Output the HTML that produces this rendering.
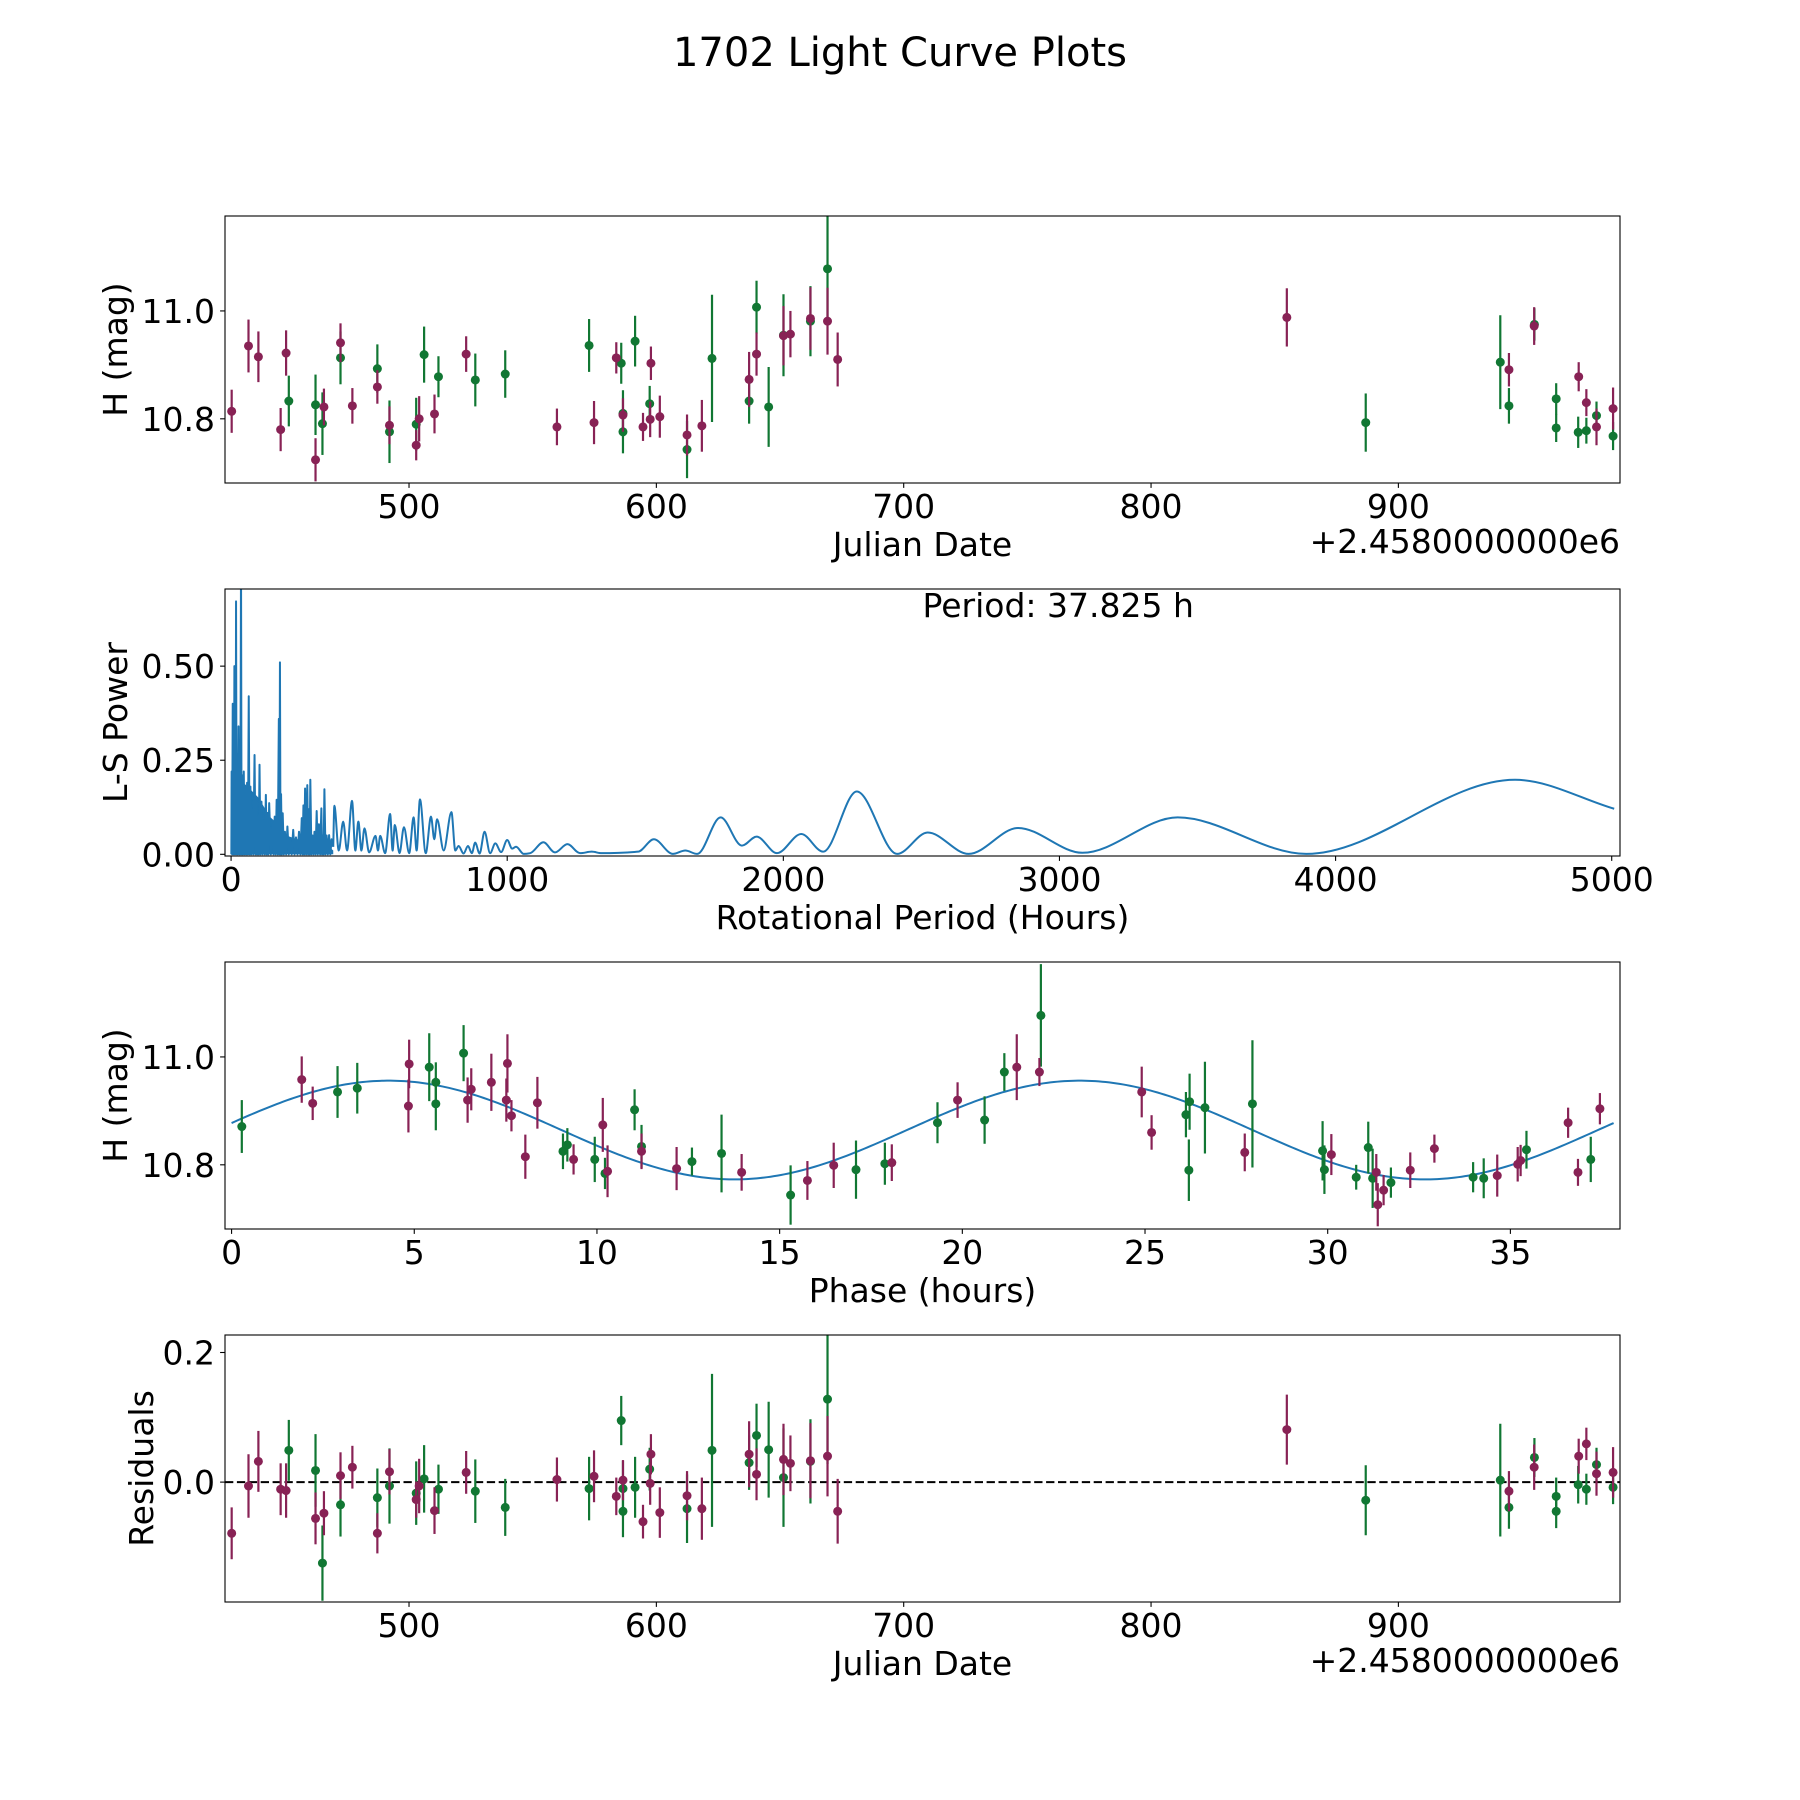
<!DOCTYPE html>
<html><head><meta charset="utf-8"><title>1702 Light Curve Plots</title>
<style>
html,body{margin:0;padding:0;background:#fff}
svg{display:block}
text{font-family:"DejaVu Sans","Liberation Sans",sans-serif;fill:#000}
</style></head>
<body>
<svg id="fig" xmlns="http://www.w3.org/2000/svg" width="1800" height="1800" viewBox="0 0 1800 1800">
<rect width="1800" height="1800" fill="#fff"/>
<text x="900" y="66" text-anchor="middle" font-size="40">1702 Light Curve Plots</text>
</svg>
<script>
// ---- Panel 1 / 4 data: magenta band ----
const jdM  = [428.3,435.1,439.1,448.1,450.3,462.2,465.6,472.3,477.1,487.2,492.1,502.9,504.1,510.3,523.1,559.8,574.8,583.8,586.5,594.6,597.8,597.5,601.4,612.4,618.4,637.5,640.5,651.4,654.2,662.3,669.2,673.3,854.9,944.7,954.9,972.9,976.0,980.1,986.8];
const magM = [10.814,10.935,10.915,10.780,10.922,10.724,10.822,10.941,10.824,10.859,10.788,10.751,10.800,10.809,10.920,10.785,10.793,10.913,10.807,10.785,10.903,10.799,10.804,10.770,10.787,10.873,10.920,10.954,10.957,10.986,10.981,10.910,10.988,10.891,10.972,10.878,10.830,10.785,10.819];
const errM = [0.040,0.049,0.047,0.040,0.042,0.040,0.034,0.036,0.033,0.031,0.035,0.028,0.042,0.036,0.033,0.034,0.040,0.029,0.031,0.026,0.031,0.033,0.039,0.038,0.048,0.051,0.040,0.055,0.043,0.058,0.062,0.050,0.054,0.031,0.035,0.027,0.025,0.034,0.039];
const resM = [-0.079,-0.006,0.032,-0.011,-0.013,-0.056,-0.048,0.010,0.023,-0.079,0.016,-0.027,-0.006,-0.044,0.015,0.004,0.009,-0.022,0.003,-0.061,0.043,-0.002,-0.047,-0.021,-0.041,0.043,0.012,0.035,0.029,0.033,0.040,-0.045,0.081,-0.014,0.023,0.040,0.059,0.013,0.015];
// ---- green band ----
const jdG  = [451.4,462.2,465.0,472.3,487.2,492.1,502.9,506.1,511.9,526.8,538.9,572.8,585.8,586.5,586.5,591.4,597.3,612.4,622.5,637.5,640.5,645.4,651.4,662.3,669.2,886.8,941.2,944.7,955.0,963.8,963.8,972.7,976.0,980.1,986.8];
const magG = [10.833,10.826,10.791,10.913,10.893,10.776,10.790,10.919,10.878,10.872,10.883,10.936,10.903,10.810,10.776,10.944,10.828,10.743,10.912,10.833,11.007,10.822,10.955,10.981,11.078,10.793,10.905,10.824,10.975,10.837,10.783,10.775,10.778,10.806,10.768];
const errG = [0.047,0.056,0.058,0.049,0.045,0.058,0.049,0.052,0.038,0.049,0.044,0.049,0.038,0.043,0.040,0.047,0.033,0.053,0.118,0.042,0.049,0.074,0.076,0.065,0.100,0.054,0.087,0.033,0.030,0.029,0.026,0.029,0.024,0.026,0.026];
const resG = [0.049,0.018,-0.125,-0.035,-0.024,-0.006,-0.017,0.005,-0.011,-0.014,-0.039,-0.010,0.095,-0.010,-0.045,-0.008,0.020,-0.041,0.049,0.030,0.072,0.050,0.007,0.032,0.128,-0.028,0.003,-0.039,0.038,-0.022,-0.045,-0.004,-0.011,0.027,-0.008];
// ---- Phase panel data ----
const phM    = [1.92,2.22,4.84,4.86,6.46,6.56,7.11,7.52,7.55,7.66,8.37,8.04,9.36,10.16,10.29,11.22,12.18,13.96,15.76,16.48,18.07,19.87,21.49,22.11,24.91,25.18,27.73,30.10,31.33,31.37,31.53,32.26,32.92,34.64,35.20,35.28,36.58,36.85,37.45];
const phMagM = [10.958,10.914,10.909,10.987,10.920,10.940,10.953,10.920,10.988,10.891,10.915,10.815,10.810,10.874,10.788,10.825,10.793,10.786,10.771,10.799,10.804,10.920,10.981,10.972,10.935,10.860,10.823,10.819,10.786,10.726,10.753,10.790,10.830,10.780,10.801,10.808,10.878,10.786,10.904];
const phErrM = [0.043,0.031,0.049,0.045,0.042,0.039,0.053,0.040,0.054,0.029,0.048,0.041,0.028,0.050,0.048,0.033,0.040,0.034,0.036,0.042,0.034,0.033,0.061,0.026,0.047,0.032,0.035,0.038,0.034,0.040,0.028,0.033,0.026,0.039,0.032,0.029,0.028,0.025,0.029];
const phG    = [0.28,2.90,3.44,5.41,5.59,5.59,6.35,9.07,9.19,9.94,10.22,11.03,11.22,12.60,13.41,15.30,17.09,17.88,19.32,20.61,21.15,22.15,26.12,26.22,26.20,26.64,27.94,29.86,29.91,30.78,31.11,31.23,31.73,33.98,34.27,35.44,37.20];
const phMagG = [10.871,10.935,10.942,10.981,10.953,10.913,11.007,10.825,10.837,10.810,10.784,10.902,10.834,10.806,10.821,10.744,10.791,10.802,10.878,10.883,10.972,11.077,10.893,10.917,10.790,10.906,10.913,10.826,10.791,10.777,10.832,10.775,10.767,10.777,10.775,10.828,10.810];
const phErrG = [0.049,0.048,0.047,0.063,0.037,0.049,0.052,0.033,0.031,0.042,0.029,0.038,0.040,0.026,0.072,0.055,0.054,0.039,0.038,0.044,0.035,0.095,0.042,0.052,0.057,0.085,0.118,0.055,0.045,0.023,0.048,0.055,0.028,0.028,0.037,0.035,0.042];
const fitMean = 10.8645, fitAmp = 0.0915, fitPeakPhase = 4.3, rotPeriod = 37.825;
// ---- Periodogram data ----
const spikePeriods = [2,6,9,12,15,18,22,27,31,36,40,46,52,58,64,70,76,85,92,97,103,110,118,126,132,138,150,158,165,173,177,181,187,195,204,214,225,235,246,256,262,268,276,282,287,295,302,310,318,327,332,338,346,355,364];
const spikePower   = [0.22,0.40,0.30,0.50,0.25,0.672,0.22,0.34,0.20,0.78,0.21,0.22,0.18,0.19,0.42,0.18,0.12,0.264,0.14,0.10,0.238,0.14,0.09,0.158,0.11,0.136,0.09,0.10,0.145,0.36,0.51,0.16,0.109,0.06,0.074,0.04,0.065,0.045,0.06,0.096,0.13,0.175,0.184,0.12,0.198,0.05,0.06,0.115,0.08,0.122,0.05,0.173,0.05,0.051,0.04];
const envPeriods = [1,10,30,60,100,140,170,200,240,270,300,340,370];
const envPower   = [0.20,0.22,0.20,0.18,0.15,0.10,0.08,0.05,0.04,0.06,0.04,0.03,0.01];
const smoothPeriods = [370,374,390,406,420,438,450,461,472,483,500,523,532,540,558,576,585,593,610,626,645,661,672,684,705,724,736,746,770,798,812,824,842,858,872,884,900,918,938,957,978,1000,1018,1032,1060,1083,1131,1173,1218,1264,1306,1342,1474,1531,1600,1645,1688,1773,1850,1903,1977,2065,2144,2266,2412,2523,2671,2850,3083,3428,3894,4650,5009];
const smoothPower   = [0.02,0.129,0.01,0.087,0.01,0.142,0.01,0.087,0.01,0.069,0.005,0.049,0.01,0.049,0.003,0.107,0.01,0.078,0.003,0.072,0.003,0.098,0.01,0.146,0.003,0.100,0.04,0.093,0.01,0.112,0.01,0.022,0.002,0.022,0.003,0.031,0.002,0.060,0.003,0.029,0.006,0.038,0.015,0.020,0.001,0.003,0.032,0.005,0.027,0.003,0.007,0.003,0.007,0.040,0.001,0.010,0.001,0.098,0.023,0.047,0.003,0.054,0.007,0.167,0.001,0.058,0.001,0.070,0.004,0.098,0.001,0.198,0.121];
// ---- tick labels ----
const jdTicks = [500,600,700,800,900];
const magTicks = [10.8,11.0];
const magTickLabels = ["10.8","11.0"];
const perTicks = [0,1000,2000,3000,4000,5000];
const powTicks = [0,0.25,0.5];
const powTickLabels = ["0.00","0.25","0.50"];
const phTicks = [0,5,10,15,20,25,30,35];
const resTicks = [0,0.2];
const resTickLabels = ["0.0","0.2"];

const NS = "http://www.w3.org/2000/svg";
const svg = document.getElementById('fig');
const L = 225, W = 1395, H = 267;
const MAG = "#882255", GRN = "#117733", BLUE = "#1f77b4";

function mk(tag, attrs, parent) {
  const e = document.createElementNS(NS, tag);
  for (const k in attrs) e.setAttribute(k, attrs[k]);
  (parent || svg).appendChild(e);
  return e;
}
function makeAxes(id, top, xmin, xmax, ymin, ymax) {
  const g = mk('g', {});
  
  
  const cp = mk('clipPath', {id: id + '-clip'}, g);
  mk('rect', {x: L, y: top, width: W, height: H}, cp);
  const plot = mk('g', {'clip-path': 'url(#' + id + '-clip)'}, g);
  
  
  return {g, plot, top,
    x: v => L + (v - xmin) / (xmax - xmin) * W,
    y: v => top + H - (v - ymin) / (ymax - ymin) * H};
}
function frame(ax, id) {
  const r = mk('rect', {x: L, y: ax.top, width: W, height: H, fill: 'none', stroke: '#000', 'stroke-width': 1.1}, ax.g);
  
  
}
function xTicks(ax, id, vals, labels) {
  const b = ax.top + H;
  vals.forEach((v, i) => {
    const x = ax.x(v);
    mk('line', {x1: x, x2: x, y1: b, y2: b + 4.9, stroke: '#000', 'stroke-width': 1.1}, ax.g);
    const t = mk('text', {x: x, y: b + 35, 'text-anchor': 'middle', 'font-size': 33}, ax.g);
    
    
    t.textContent = labels ? labels[i] : String(v);
  });
}
function yTicks(ax, id, vals, labels) {
  vals.forEach((v, i) => {
    const y = ax.y(v);
    mk('line', {x1: L - 4.9, x2: L, y1: y, y2: y, stroke: '#000', 'stroke-width': 1.1}, ax.g);
    const t = mk('text', {x: 215, y: y + 12, 'text-anchor': 'end', 'font-size': 33}, ax.g);
    
    
    t.textContent = labels[i];
  });
}
function label(ax, id, xText, yText, yx, offset) {
  const b = ax.top + H;
  const t = mk('text', {x: L + W / 2, y: b + 73, 'text-anchor': 'middle', 'font-size': 33}, ax.g);
  
  
  t.textContent = xText;
  const cy = ax.top + H / 2;
  const u = mk('text', {x: yx, y: cy, 'text-anchor': 'middle', 'font-size': 33, transform: 'rotate(-90 ' + yx + ' ' + cy + ')'}, ax.g);
  
  
  u.textContent = yText;
  if (offset) {
    const o = mk('text', {x: L + W, y: b + 70, 'text-anchor': 'end', 'font-size': 33}, ax.g);
    
    
    o.textContent = offset;
  }
}
function errPoints(ax, xs, ys, es, color, nm) {
  xs.forEach((xv, i) => {
    const x = ax.x(xv);
    const l = mk('line', {x1: x, x2: x, y1: ax.y(ys[i] - es[i]), y2: ax.y(ys[i] + es[i]), stroke: color, 'stroke-width': 2.2}, ax.plot);
    
    
  });
  xs.forEach((xv, i) => {
    const c = mk('circle', {cx: ax.x(xv), cy: ax.y(ys[i]), r: 4.5, fill: color}, ax.plot);
    
    
  });
}

// Panel 1
const a1 = makeAxes('light-curve', 216, 425.6, 989.6, 10.681, 11.176);
errPoints(a1, jdG, magG, errG, GRN, 'green-band');
errPoints(a1, jdM, magM, errM, MAG, 'magenta-band');
frame(a1, 'light-curve'); xTicks(a1, 'light-curve', jdTicks); yTicks(a1, 'light-curve', magTicks, magTickLabels);
label(a1, 'light-curve', 'Julian Date', 'H (mag)', 127, '+2.4580000000e6');

// Panel 2: periodogram
const a2 = makeAxes('periodogram', 589, -22, 5030, -0.0045, 0.705);
let env = [[a2.x(envPeriods[0]), a2.y(0)]];
envPeriods.forEach((p, i) => env.push([a2.x(p), a2.y(envPower[i])]));
env.push([a2.x(envPeriods[envPeriods.length - 1]), a2.y(0)]);
const envEl = mk('polygon', {points: env.map(p => p.join(',')).join(' '), fill: BLUE}, a2.plot);


let sp = [];
spikePeriods.forEach((p, i) => {
  const prev = i ? spikePeriods[i - 1] : 0;
  sp.push([a2.x((prev + p) / 2), a2.y(0)]);
  sp.push([a2.x(p), a2.y(spikePower[i])]);
});
sp.push([a2.x(smoothPeriods[0]), a2.y(smoothPower[0])]);
const spEl = mk('polyline', {points: sp.map(p => p.join(',')).join(' '), fill: 'none', stroke: BLUE, 'stroke-width': 2, 'stroke-linejoin': 'round'}, a2.plot);


(function () {
  const xs = smoothPeriods.map(a2.x), ys = smoothPower.map(a2.y), n = xs.length;
  const d = [], m = [];
  for (let i = 0; i < n - 1; i++) d.push((ys[i + 1] - ys[i]) / (xs[i + 1] - xs[i]));
  for (let i = 0; i < n; i++) {
    if (i === 0) m.push(d[0]); else if (i === n - 1) m.push(d[n - 2]);
    else m.push(d[i - 1] * d[i] <= 0 ? 0 : 2 / (1 / d[i - 1] + 1 / d[i]));
  }
  let path = 'M' + xs[0] + ',' + ys[0];
  for (let i = 0; i < n - 1; i++) {
    const h = (xs[i + 1] - xs[i]) / 3;
    path += ' C' + (xs[i] + h) + ',' + (ys[i] + m[i] * h) + ' ' + (xs[i + 1] - h) + ',' + (ys[i + 1] - m[i + 1] * h) + ' ' + xs[i + 1] + ',' + ys[i + 1];
  }
  const p = mk('path', {d: path, fill: 'none', stroke: BLUE, 'stroke-width': 2}, a2.plot);
  
  
})();
frame(a2, 'periodogram'); xTicks(a2, 'periodogram', perTicks); yTicks(a2, 'periodogram', powTicks, powTickLabels);
label(a2, 'periodogram', 'Rotational Period (Hours)', 'L-S Power', 127);
const pt = mk('text', {x: 922.5, y: 617, 'font-size': 33}, a2.g);


pt.textContent = 'Period: ' + rotPeriod.toFixed(3) + ' h';

// Panel 3: phase
const a3 = makeAxes('phase', 962, -0.18, 38.0, 10.681, 11.176);
let fit = [];
for (let k = 0; k <= 400; k++) {
  const ph = rotPeriod * k / 400;
  fit.push([a3.x(ph), a3.y(fitMean + fitAmp * Math.cos(2 * Math.PI * (ph - fitPeakPhase) / (rotPeriod / 2)))]);
}
const fitEl = mk('polyline', {points: fit.map(p => p.join(',')).join(' '), fill: 'none', stroke: BLUE, 'stroke-width': 2}, a3.plot);


errPoints(a3, phG, phMagG, phErrG, GRN, 'green-phase');
errPoints(a3, phM, phMagM, phErrM, MAG, 'magenta-phase');
frame(a3, 'phase'); xTicks(a3, 'phase', phTicks); yTicks(a3, 'phase', magTicks, magTickLabels);
label(a3, 'phase', 'Phase (hours)', 'H (mag)', 127);

// Panel 4: residuals
const a4 = makeAxes('residuals', 1335, 425.6, 989.6, -0.185, 0.227);
const z = mk('line', {x1: L, x2: L + W, y1: a4.y(0), y2: a4.y(0), stroke: '#000', 'stroke-width': 2, 'stroke-dasharray': '8.3,3.6'}, a4.plot);


errPoints(a4, jdG, resG, errG, GRN, 'green-residual');
errPoints(a4, jdM, resM, errM, MAG, 'magenta-residual');
frame(a4, 'residuals'); xTicks(a4, 'residuals', jdTicks); yTicks(a4, 'residuals', resTicks, resTickLabels);
label(a4, 'residuals', 'Julian Date', 'Residuals', 153, '+2.4580000000e6');
</script>
</body></html>
